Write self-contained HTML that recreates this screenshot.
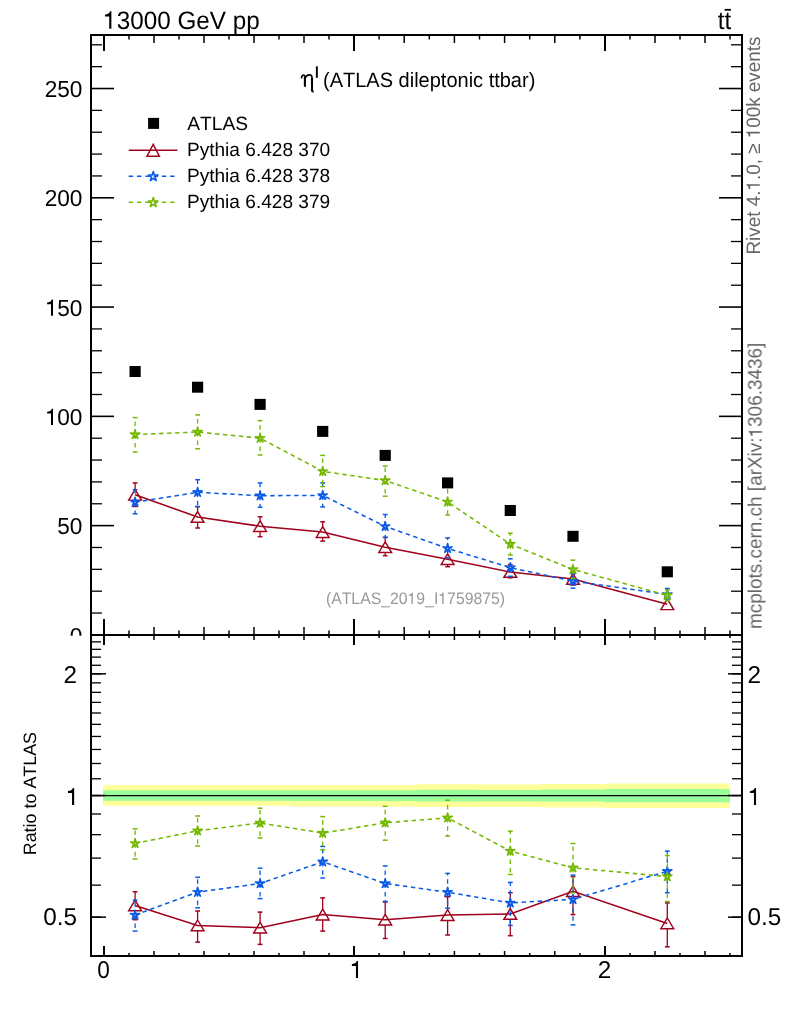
<!DOCTYPE html><html><head><meta charset="utf-8"><style>html,body{margin:0;padding:0;background:#fff;}svg{display:block;}text{font-family:"Liberation Sans",sans-serif;text-rendering:geometricPrecision;font-kerning:none;}</style></head><body>
<svg width="786" height="1024" viewBox="0 0 786 1024">
<rect width="786" height="1024" fill="#fff"/>
<g style="opacity:0.999">
<text transform="translate(103.3,28.9) scale(1,1.04)" font-size="24.25"> 3000 GeV pp</text>
<path d="M111.38 28.75 L111.38 11.35 L110.09 11.35 C109.17 13.82 107.62 14.22 105.05 14.48 L105.05 16.4 L109.22 16.4 L109.22 28.75 Z" fill="#000"/>
<text transform="translate(731.3,29.3) scale(1,1.04)" font-size="24.3" text-anchor="end">tt</text>
<rect x="724.6" y="8.9" width="6.3" height="1.8" fill="#000"/>
<text transform="translate(82.4,534.23) scale(0.98,1)" font-size="23.1" text-anchor="end">50</text>
<text transform="translate(82.4,424.95) scale(0.98,1)" font-size="23.1" text-anchor="end"> 00</text>
<path d="M53.01 424.95 L53.01 408.75 L51.81 408.75 C50.95 411.05 49.51 411.42 47.11 411.67 L47.11 413.45 L50.99 413.45 L50.99 424.95 Z" fill="#000"/>
<text transform="translate(82.4,315.67) scale(0.98,1)" font-size="23.1" text-anchor="end"> 50</text>
<path d="M53.01 315.67 L53.01 299.47 L51.81 299.47 C50.95 301.78 49.51 302.15 47.11 302.39 L47.11 304.17 L50.99 304.17 L50.99 315.67 Z" fill="#000"/>
<text transform="translate(82.4,206.4) scale(0.98,1)" font-size="23.1" text-anchor="end">200</text>
<text transform="translate(82.4,97.12) scale(0.98,1)" font-size="23.1" text-anchor="end">250</text>
<text transform="translate(82.4,643.5) scale(0.98,1)" font-size="23.1" text-anchor="end">0</text>
<g fill="none" stroke="#000" stroke-linecap="butt"><path d="M301.4 78.4 C301.6 76.2 302.7 75.0 303.7 75.0 C304.5 75.0 304.9 75.7 304.9 76.8" stroke-width="1.6"/><path d="M304.9 76.5 L304.9 86.8" stroke-width="2.1"/><path d="M304.9 78.4 C305.9 76.0 307.6 74.9 309.4 74.9 C311.2 74.9 312.0 76.0 312.0 77.8" stroke-width="1.6"/><path d="M312.0 77.5 L312.0 90.6 C312.0 91.3 312.4 91.7 313.6 91.8" stroke-width="2.1"/></g>
<rect x="315.9" y="66.3" width="1.9" height="11.5" fill="#000"/>
<text transform="translate(323.0,86.7) scale(1,1.035)" font-size="20.0">(ATLAS dileptonic ttbar)</text>
<rect x="148.1" y="117.9" width="11" height="11" fill="#000"/>
<text x="187.2" y="129.8" font-size="19.2">ATLAS</text>
<line x1="128.7" y1="150.2" x2="177.3" y2="150.2" stroke="#a0001c" stroke-width="1.45"/>
<line x1="128.7" y1="176.2" x2="175" y2="176.2" stroke="#0a5ae6" stroke-width="1.45" stroke-dasharray="4.4 3.9"/>
<line x1="128.7" y1="202.2" x2="175" y2="202.2" stroke="#74b800" stroke-width="1.45" stroke-dasharray="4.4 3.9"/>
<text x="186.9" y="155.8" font-size="19.1">Pythia 6.428 370</text>
<text x="186.9" y="181.8" font-size="19.1">Pythia 6.428 378</text>
<text x="186.9" y="207.8" font-size="19.1">Pythia 6.428 379</text>
<path d="M153.2 144.3 L159.4 156.2 L147 156.2 Z" fill="none" stroke="#a0001c" stroke-width="1.45" stroke-linejoin="miter"/>
<path d="M153.3 171.5 L154.42 174.96 L158.06 174.95 L155.11 177.09 L156.24 180.55 L153.3 178.4 L150.36 180.55 L151.49 177.09 L148.54 174.95 L152.18 174.96 Z" fill="none" stroke="#0a5ae6" stroke-width="1.6" stroke-linejoin="round"/>
<path d="M153.3 197.5 L154.42 200.96 L158.06 200.95 L155.11 203.09 L156.24 206.55 L153.3 204.4 L150.36 206.55 L151.49 203.09 L148.54 200.95 L152.18 200.96 Z" fill="none" stroke="#74b800" stroke-width="1.6" stroke-linejoin="round"/>
<g transform="translate(759.8,254.5) rotate(-90) scale(1,1.03)">
<text x="0" y="0" font-size="18.88" fill="#666">Rivet 4. .0, ≥  00k events</text>
<path d="M70.29 0 L70.29 -13.03 L69.33 -13.03 C68.63 -11.18 67.48 -10.88 65.55 -10.68 L65.55 -9.25 L68.67 -9.25 L68.67 0 Z" fill="#666"/>
<path d="M122.63 0 L122.63 -13.03 L121.67 -13.03 C120.98 -11.18 119.82 -10.88 117.89 -10.68 L117.89 -9.25 L121.02 -9.25 L121.02 0 Z" fill="#666"/>
</g>
<g transform="translate(762,629) rotate(-90) scale(1,1.03)">
<text x="0" y="0" font-size="18.94" fill="#666">mcplots.cern.ch [arXiv: 306.3436]</text>
<path d="M197.87 0 L197.87 -13.07 L196.9 -13.07 C196.21 -11.21 195.05 -10.91 193.11 -10.72 L193.11 -9.28 L196.24 -9.28 L196.24 0 Z" fill="#666"/>
</g>
<g transform="translate(415.5,603.9) scale(1,1.05)">
<text x="-89.6" y="0" font-size="15.8" fill="#999">(ATLAS_20 9_I 759875)</text>
<path d="M-2.66 0 L-2.66 -10.9 L-3.47 -10.9 C-4.05 -9.35 -5.02 -9.1 -6.63 -8.94 L-6.63 -7.74 L-4.02 -7.74 L-4.02 0 Z" fill="#999"/>
<path d="M28.09 0 L28.09 -10.9 L27.28 -10.9 C26.7 -9.35 25.73 -9.1 24.12 -8.94 L24.12 -7.74 L26.73 -7.74 L26.73 0 Z" fill="#999"/>
</g>
<g>
<path d="M135.1 494.8 L197.6 517 L260.1 526.2 L322.7 532.1 L385.2 547.2 L447.6 559.2 L510.3 572 L573 579 L667.3 604.3" fill="none" stroke="#a0001c" stroke-width="1.55"/>
<line x1="135.1" y1="489.4" x2="135.1" y2="482.9" stroke="#a0001c" stroke-width="1.3"/>
<line x1="135.1" y1="500.1" x2="135.1" y2="506.5" stroke="#a0001c" stroke-width="1.3"/>
<line x1="132.7" y1="482.9" x2="137.5" y2="482.9" stroke="#a0001c" stroke-width="1.5"/>
<line x1="132.7" y1="506.5" x2="137.5" y2="506.5" stroke="#a0001c" stroke-width="1.5"/>
<line x1="197.6" y1="511.6" x2="197.6" y2="506.7" stroke="#a0001c" stroke-width="1.3"/>
<line x1="197.6" y1="522.3" x2="197.6" y2="528" stroke="#a0001c" stroke-width="1.3"/>
<line x1="195.2" y1="506.7" x2="200" y2="506.7" stroke="#a0001c" stroke-width="1.5"/>
<line x1="195.2" y1="528" x2="200" y2="528" stroke="#a0001c" stroke-width="1.5"/>
<line x1="260.1" y1="520.8" x2="260.1" y2="516.8" stroke="#a0001c" stroke-width="1.3"/>
<line x1="260.1" y1="531.5" x2="260.1" y2="536.7" stroke="#a0001c" stroke-width="1.3"/>
<line x1="257.7" y1="516.8" x2="262.5" y2="516.8" stroke="#a0001c" stroke-width="1.5"/>
<line x1="257.7" y1="536.7" x2="262.5" y2="536.7" stroke="#a0001c" stroke-width="1.5"/>
<line x1="322.7" y1="526.7" x2="322.7" y2="521.8" stroke="#a0001c" stroke-width="1.3"/>
<line x1="322.7" y1="537.4" x2="322.7" y2="541.1" stroke="#a0001c" stroke-width="1.3"/>
<line x1="320.3" y1="521.8" x2="325.1" y2="521.8" stroke="#a0001c" stroke-width="1.5"/>
<line x1="320.3" y1="541.1" x2="325.1" y2="541.1" stroke="#a0001c" stroke-width="1.5"/>
<line x1="385.2" y1="541.8" x2="385.2" y2="537.4" stroke="#a0001c" stroke-width="1.3"/>
<line x1="385.2" y1="552.5" x2="385.2" y2="555.7" stroke="#a0001c" stroke-width="1.3"/>
<line x1="382.8" y1="537.4" x2="387.6" y2="537.4" stroke="#a0001c" stroke-width="1.5"/>
<line x1="382.8" y1="555.7" x2="387.6" y2="555.7" stroke="#a0001c" stroke-width="1.5"/>
<line x1="447.6" y1="553.8" x2="447.6" y2="550" stroke="#a0001c" stroke-width="1.3"/>
<line x1="447.6" y1="564.5" x2="447.6" y2="566.7" stroke="#a0001c" stroke-width="1.3"/>
<line x1="445.2" y1="550" x2="450" y2="550" stroke="#a0001c" stroke-width="1.5"/>
<line x1="445.2" y1="566.7" x2="450" y2="566.7" stroke="#a0001c" stroke-width="1.5"/>
<line x1="510.3" y1="566.6" x2="510.3" y2="564.6" stroke="#a0001c" stroke-width="1.3"/>
<line x1="510.3" y1="577.3" x2="510.3" y2="577.8" stroke="#a0001c" stroke-width="1.3"/>
<line x1="507.9" y1="564.6" x2="512.7" y2="564.6" stroke="#a0001c" stroke-width="1.5"/>
<line x1="507.9" y1="577.8" x2="512.7" y2="577.8" stroke="#a0001c" stroke-width="1.5"/>
<line x1="573" y1="573.6" x2="573" y2="573" stroke="#a0001c" stroke-width="1.3"/>
<line x1="573" y1="584.3" x2="573" y2="585" stroke="#a0001c" stroke-width="1.3"/>
<line x1="570.6" y1="573" x2="575.4" y2="573" stroke="#a0001c" stroke-width="1.5"/>
<line x1="570.6" y1="585" x2="575.4" y2="585" stroke="#a0001c" stroke-width="1.5"/>
<path d="M135.1 489.4 L141.5 500.1 L128.7 500.1 Z" fill="none" stroke="#a0001c" stroke-width="1.45" stroke-linejoin="miter"/>
<path d="M197.6 511.6 L204 522.3 L191.2 522.3 Z" fill="none" stroke="#a0001c" stroke-width="1.45" stroke-linejoin="miter"/>
<path d="M260.1 520.8 L266.5 531.5 L253.7 531.5 Z" fill="none" stroke="#a0001c" stroke-width="1.45" stroke-linejoin="miter"/>
<path d="M322.7 526.7 L329.1 537.4 L316.3 537.4 Z" fill="none" stroke="#a0001c" stroke-width="1.45" stroke-linejoin="miter"/>
<path d="M385.2 541.8 L391.6 552.5 L378.8 552.5 Z" fill="none" stroke="#a0001c" stroke-width="1.45" stroke-linejoin="miter"/>
<path d="M447.6 553.8 L454 564.5 L441.2 564.5 Z" fill="none" stroke="#a0001c" stroke-width="1.45" stroke-linejoin="miter"/>
<path d="M510.3 566.6 L516.7 577.3 L503.9 577.3 Z" fill="none" stroke="#a0001c" stroke-width="1.45" stroke-linejoin="miter"/>
<path d="M573 573.6 L579.4 584.3 L566.6 584.3 Z" fill="none" stroke="#a0001c" stroke-width="1.45" stroke-linejoin="miter"/>
<path d="M667.3 598.9 L673.7 609.6 L660.9 609.6 Z" fill="none" stroke="#a0001c" stroke-width="1.45" stroke-linejoin="miter"/>
</g>
<g>
<path d="M135.1 502.2 L197.6 492.3 L260.1 495.7 L322.7 495.4 L385.2 526.4 L447.6 548.4 L510.3 567.6 L573 581.1 L667.3 594.4" fill="none" stroke="#0a5ae6" stroke-width="1.55" stroke-dasharray="4.4 3.6"/>
<path d="M135.1 502.2 L135.1 489.7 M135.1 502.2 L135.1 513.8" stroke="#0a5ae6" stroke-width="1.3" fill="none" stroke-dasharray="4.6 3.8"/>
<line x1="132.7" y1="489.7" x2="137.5" y2="489.7" stroke="#0a5ae6" stroke-width="1.5"/>
<line x1="132.7" y1="513.8" x2="137.5" y2="513.8" stroke="#0a5ae6" stroke-width="1.5"/>
<path d="M197.6 492.3 L197.6 479.7 M197.6 492.3 L197.6 506.5" stroke="#0a5ae6" stroke-width="1.3" fill="none" stroke-dasharray="4.6 3.8"/>
<line x1="195.2" y1="479.7" x2="200" y2="479.7" stroke="#0a5ae6" stroke-width="1.5"/>
<line x1="195.2" y1="506.5" x2="200" y2="506.5" stroke="#0a5ae6" stroke-width="1.5"/>
<path d="M260.1 495.7 L260.1 482.9 M260.1 495.7 L260.1 507.2" stroke="#0a5ae6" stroke-width="1.3" fill="none" stroke-dasharray="4.6 3.8"/>
<line x1="257.7" y1="482.9" x2="262.5" y2="482.9" stroke="#0a5ae6" stroke-width="1.5"/>
<line x1="257.7" y1="507.2" x2="262.5" y2="507.2" stroke="#0a5ae6" stroke-width="1.5"/>
<path d="M322.7 495.4 L322.7 482.9 M322.7 495.4 L322.7 506.9" stroke="#0a5ae6" stroke-width="1.3" fill="none" stroke-dasharray="4.6 3.8"/>
<line x1="320.3" y1="482.9" x2="325.1" y2="482.9" stroke="#0a5ae6" stroke-width="1.5"/>
<line x1="320.3" y1="506.9" x2="325.1" y2="506.9" stroke="#0a5ae6" stroke-width="1.5"/>
<path d="M385.2 526.4 L385.2 514.5 M385.2 526.4 L385.2 537.4" stroke="#0a5ae6" stroke-width="1.3" fill="none" stroke-dasharray="4.6 3.8"/>
<line x1="382.8" y1="514.5" x2="387.6" y2="514.5" stroke="#0a5ae6" stroke-width="1.5"/>
<line x1="382.8" y1="537.4" x2="387.6" y2="537.4" stroke="#0a5ae6" stroke-width="1.5"/>
<path d="M447.6 548.4 L447.6 537.9 M447.6 548.4 L447.6 558" stroke="#0a5ae6" stroke-width="1.3" fill="none" stroke-dasharray="4.6 3.8"/>
<line x1="445.2" y1="537.9" x2="450" y2="537.9" stroke="#0a5ae6" stroke-width="1.5"/>
<line x1="445.2" y1="558" x2="450" y2="558" stroke="#0a5ae6" stroke-width="1.5"/>
<path d="M510.3 567.6 L510.3 558.8 M510.3 567.6 L510.3 576.3" stroke="#0a5ae6" stroke-width="1.3" fill="none" stroke-dasharray="4.6 3.8"/>
<line x1="507.9" y1="558.8" x2="512.7" y2="558.8" stroke="#0a5ae6" stroke-width="1.5"/>
<line x1="507.9" y1="576.3" x2="512.7" y2="576.3" stroke="#0a5ae6" stroke-width="1.5"/>
<path d="M573 581.1 L573 574 M573 581.1 L573 588.2" stroke="#0a5ae6" stroke-width="1.3" fill="none" stroke-dasharray="4.6 3.8"/>
<line x1="570.6" y1="574" x2="575.4" y2="574" stroke="#0a5ae6" stroke-width="1.5"/>
<line x1="570.6" y1="588.2" x2="575.4" y2="588.2" stroke="#0a5ae6" stroke-width="1.5"/>
<path d="M667.3 594.4 L667.3 588.5 M667.3 594.4 L667.3 599" stroke="#0a5ae6" stroke-width="1.3" fill="none" stroke-dasharray="4.6 3.8"/>
<line x1="664.9" y1="588.5" x2="669.7" y2="588.5" stroke="#0a5ae6" stroke-width="1.5"/>
<line x1="664.9" y1="599" x2="669.7" y2="599" stroke="#0a5ae6" stroke-width="1.5"/>
<path d="M135.1 497.3 L136.01 500.95 L139.76 500.69 L136.57 502.68 L137.98 506.16 L135.1 503.75 L132.22 506.16 L133.63 502.68 L130.44 500.69 L134.19 500.95 Z" fill="#0a5ae6" stroke="#0a5ae6" stroke-width="1.5" stroke-linejoin="round"/><ellipse cx="135.1" cy="502.2" rx="0.75" ry="0.5" fill="#fff" fill-opacity="0.75"/>
<path d="M197.6 487.4 L198.51 491.05 L202.26 490.79 L199.07 492.78 L200.48 496.26 L197.6 493.85 L194.72 496.26 L196.13 492.78 L192.94 490.79 L196.69 491.05 Z" fill="#0a5ae6" stroke="#0a5ae6" stroke-width="1.5" stroke-linejoin="round"/><ellipse cx="197.6" cy="492.3" rx="0.75" ry="0.5" fill="#fff" fill-opacity="0.75"/>
<path d="M260.1 490.8 L261.01 494.45 L264.76 494.19 L261.57 496.18 L262.98 499.66 L260.1 497.25 L257.22 499.66 L258.63 496.18 L255.44 494.19 L259.19 494.45 Z" fill="#0a5ae6" stroke="#0a5ae6" stroke-width="1.5" stroke-linejoin="round"/><ellipse cx="260.1" cy="495.7" rx="0.75" ry="0.5" fill="#fff" fill-opacity="0.75"/>
<path d="M322.7 490.5 L323.61 494.15 L327.36 493.89 L324.17 495.88 L325.58 499.36 L322.7 496.95 L319.82 499.36 L321.23 495.88 L318.04 493.89 L321.79 494.15 Z" fill="#0a5ae6" stroke="#0a5ae6" stroke-width="1.5" stroke-linejoin="round"/><ellipse cx="322.7" cy="495.4" rx="0.75" ry="0.5" fill="#fff" fill-opacity="0.75"/>
<path d="M385.2 521.5 L386.11 525.15 L389.86 524.89 L386.67 526.88 L388.08 530.36 L385.2 527.95 L382.32 530.36 L383.73 526.88 L380.54 524.89 L384.29 525.15 Z" fill="#0a5ae6" stroke="#0a5ae6" stroke-width="1.5" stroke-linejoin="round"/><ellipse cx="385.2" cy="526.4" rx="0.75" ry="0.5" fill="#fff" fill-opacity="0.75"/>
<path d="M447.6 543.5 L448.51 547.15 L452.26 546.89 L449.07 548.88 L450.48 552.36 L447.6 549.95 L444.72 552.36 L446.13 548.88 L442.94 546.89 L446.69 547.15 Z" fill="#0a5ae6" stroke="#0a5ae6" stroke-width="1.5" stroke-linejoin="round"/><ellipse cx="447.6" cy="548.4" rx="0.75" ry="0.5" fill="#fff" fill-opacity="0.75"/>
<path d="M510.3 562.7 L511.21 566.35 L514.96 566.09 L511.77 568.08 L513.18 571.56 L510.3 569.15 L507.42 571.56 L508.83 568.08 L505.64 566.09 L509.39 566.35 Z" fill="#0a5ae6" stroke="#0a5ae6" stroke-width="1.5" stroke-linejoin="round"/><ellipse cx="510.3" cy="567.6" rx="0.75" ry="0.5" fill="#fff" fill-opacity="0.75"/>
<path d="M573 576.2 L573.91 579.85 L577.66 579.59 L574.47 581.58 L575.88 585.06 L573 582.65 L570.12 585.06 L571.53 581.58 L568.34 579.59 L572.09 579.85 Z" fill="#0a5ae6" stroke="#0a5ae6" stroke-width="1.5" stroke-linejoin="round"/><ellipse cx="573" cy="581.1" rx="0.75" ry="0.5" fill="#fff" fill-opacity="0.75"/>
<path d="M667.3 589.5 L668.21 593.15 L671.96 592.89 L668.77 594.88 L670.18 598.36 L667.3 595.95 L664.42 598.36 L665.83 594.88 L662.64 592.89 L666.39 593.15 Z" fill="#0a5ae6" stroke="#0a5ae6" stroke-width="1.5" stroke-linejoin="round"/><ellipse cx="667.3" cy="594.4" rx="0.75" ry="0.5" fill="#fff" fill-opacity="0.75"/>
</g>
<g>
<path d="M135.1 434.5 L197.6 432 L260.1 438.2 L322.7 471.4 L385.2 480.5 L447.6 501.9 L510.3 544.1 L573 569.5 L667.3 595.3" fill="none" stroke="#74b800" stroke-width="1.55" stroke-dasharray="4.4 3.6"/>
<path d="M135.1 434.5 L135.1 417.6 M135.1 434.5 L135.1 452" stroke="#74b800" stroke-width="1.3" fill="none" stroke-dasharray="4.6 3.8"/>
<line x1="132.7" y1="417.6" x2="137.5" y2="417.6" stroke="#74b800" stroke-width="1.5"/>
<line x1="132.7" y1="452" x2="137.5" y2="452" stroke="#74b800" stroke-width="1.5"/>
<path d="M197.6 432 L197.6 414.9 M197.6 432 L197.6 448.8" stroke="#74b800" stroke-width="1.3" fill="none" stroke-dasharray="4.6 3.8"/>
<line x1="195.2" y1="414.9" x2="200" y2="414.9" stroke="#74b800" stroke-width="1.5"/>
<line x1="195.2" y1="448.8" x2="200" y2="448.8" stroke="#74b800" stroke-width="1.5"/>
<path d="M260.1 438.2 L260.1 420.6 M260.1 438.2 L260.1 455" stroke="#74b800" stroke-width="1.3" fill="none" stroke-dasharray="4.6 3.8"/>
<line x1="257.7" y1="420.6" x2="262.5" y2="420.6" stroke="#74b800" stroke-width="1.5"/>
<line x1="257.7" y1="455" x2="262.5" y2="455" stroke="#74b800" stroke-width="1.5"/>
<path d="M322.7 471.4 L322.7 455.4 M322.7 471.4 L322.7 486.6" stroke="#74b800" stroke-width="1.3" fill="none" stroke-dasharray="4.6 3.8"/>
<line x1="320.3" y1="455.4" x2="325.1" y2="455.4" stroke="#74b800" stroke-width="1.5"/>
<line x1="320.3" y1="486.6" x2="325.1" y2="486.6" stroke="#74b800" stroke-width="1.5"/>
<path d="M385.2 480.5 L385.2 466 M385.2 480.5 L385.2 496.2" stroke="#74b800" stroke-width="1.3" fill="none" stroke-dasharray="4.6 3.8"/>
<line x1="382.8" y1="466" x2="387.6" y2="466" stroke="#74b800" stroke-width="1.5"/>
<line x1="382.8" y1="496.2" x2="387.6" y2="496.2" stroke="#74b800" stroke-width="1.5"/>
<path d="M447.6 501.9 L447.6 487 M447.6 501.9 L447.6 515" stroke="#74b800" stroke-width="1.3" fill="none" stroke-dasharray="4.6 3.8"/>
<line x1="445.2" y1="487" x2="450" y2="487" stroke="#74b800" stroke-width="1.5"/>
<line x1="445.2" y1="515" x2="450" y2="515" stroke="#74b800" stroke-width="1.5"/>
<path d="M510.3 544.1 L510.3 533.3 M510.3 544.1 L510.3 555" stroke="#74b800" stroke-width="1.3" fill="none" stroke-dasharray="4.6 3.8"/>
<line x1="507.9" y1="533.3" x2="512.7" y2="533.3" stroke="#74b800" stroke-width="1.5"/>
<line x1="507.9" y1="555" x2="512.7" y2="555" stroke="#74b800" stroke-width="1.5"/>
<path d="M573 569.5 L573 560.1 M573 569.5 L573 578.5" stroke="#74b800" stroke-width="1.3" fill="none" stroke-dasharray="4.6 3.8"/>
<line x1="570.6" y1="560.1" x2="575.4" y2="560.1" stroke="#74b800" stroke-width="1.5"/>
<line x1="570.6" y1="578.5" x2="575.4" y2="578.5" stroke="#74b800" stroke-width="1.5"/>
<path d="M667.3 595.3 L667.3 590 M667.3 595.3 L667.3 600.5" stroke="#74b800" stroke-width="1.3" fill="none" stroke-dasharray="4.6 3.8"/>
<line x1="664.9" y1="590" x2="669.7" y2="590" stroke="#74b800" stroke-width="1.5"/>
<line x1="664.9" y1="600.5" x2="669.7" y2="600.5" stroke="#74b800" stroke-width="1.5"/>
<path d="M135.1 429.6 L136.01 433.25 L139.76 432.99 L136.57 434.98 L137.98 438.46 L135.1 436.05 L132.22 438.46 L133.63 434.98 L130.44 432.99 L134.19 433.25 Z" fill="#74b800" stroke="#74b800" stroke-width="1.5" stroke-linejoin="round"/><ellipse cx="135.1" cy="434.5" rx="0.75" ry="0.5" fill="#fff" fill-opacity="0.75"/>
<path d="M197.6 427.1 L198.51 430.75 L202.26 430.49 L199.07 432.48 L200.48 435.96 L197.6 433.55 L194.72 435.96 L196.13 432.48 L192.94 430.49 L196.69 430.75 Z" fill="#74b800" stroke="#74b800" stroke-width="1.5" stroke-linejoin="round"/><ellipse cx="197.6" cy="432" rx="0.75" ry="0.5" fill="#fff" fill-opacity="0.75"/>
<path d="M260.1 433.3 L261.01 436.95 L264.76 436.69 L261.57 438.68 L262.98 442.16 L260.1 439.75 L257.22 442.16 L258.63 438.68 L255.44 436.69 L259.19 436.95 Z" fill="#74b800" stroke="#74b800" stroke-width="1.5" stroke-linejoin="round"/><ellipse cx="260.1" cy="438.2" rx="0.75" ry="0.5" fill="#fff" fill-opacity="0.75"/>
<path d="M322.7 466.5 L323.61 470.15 L327.36 469.89 L324.17 471.88 L325.58 475.36 L322.7 472.95 L319.82 475.36 L321.23 471.88 L318.04 469.89 L321.79 470.15 Z" fill="#74b800" stroke="#74b800" stroke-width="1.5" stroke-linejoin="round"/><ellipse cx="322.7" cy="471.4" rx="0.75" ry="0.5" fill="#fff" fill-opacity="0.75"/>
<path d="M385.2 475.6 L386.11 479.25 L389.86 478.99 L386.67 480.98 L388.08 484.46 L385.2 482.05 L382.32 484.46 L383.73 480.98 L380.54 478.99 L384.29 479.25 Z" fill="#74b800" stroke="#74b800" stroke-width="1.5" stroke-linejoin="round"/><ellipse cx="385.2" cy="480.5" rx="0.75" ry="0.5" fill="#fff" fill-opacity="0.75"/>
<path d="M447.6 497 L448.51 500.65 L452.26 500.39 L449.07 502.38 L450.48 505.86 L447.6 503.45 L444.72 505.86 L446.13 502.38 L442.94 500.39 L446.69 500.65 Z" fill="#74b800" stroke="#74b800" stroke-width="1.5" stroke-linejoin="round"/><ellipse cx="447.6" cy="501.9" rx="0.75" ry="0.5" fill="#fff" fill-opacity="0.75"/>
<path d="M510.3 539.2 L511.21 542.85 L514.96 542.59 L511.77 544.58 L513.18 548.06 L510.3 545.65 L507.42 548.06 L508.83 544.58 L505.64 542.59 L509.39 542.85 Z" fill="#74b800" stroke="#74b800" stroke-width="1.5" stroke-linejoin="round"/><ellipse cx="510.3" cy="544.1" rx="0.75" ry="0.5" fill="#fff" fill-opacity="0.75"/>
<path d="M573 564.6 L573.91 568.25 L577.66 567.99 L574.47 569.98 L575.88 573.46 L573 571.05 L570.12 573.46 L571.53 569.98 L568.34 567.99 L572.09 568.25 Z" fill="#74b800" stroke="#74b800" stroke-width="1.5" stroke-linejoin="round"/><ellipse cx="573" cy="569.5" rx="0.75" ry="0.5" fill="#fff" fill-opacity="0.75"/>
<path d="M667.3 590.4 L668.21 594.05 L671.96 593.79 L668.77 595.78 L670.18 599.26 L667.3 596.85 L664.42 599.26 L665.83 595.78 L662.64 593.79 L666.39 594.05 Z" fill="#74b800" stroke="#74b800" stroke-width="1.5" stroke-linejoin="round"/><ellipse cx="667.3" cy="595.3" rx="0.75" ry="0.5" fill="#fff" fill-opacity="0.75"/>
</g>
<rect x="129.5" y="366" width="11.2" height="11" fill="#000"/>
<rect x="192" y="381.7" width="11.2" height="11" fill="#000"/>
<rect x="254.5" y="398.9" width="11.2" height="11" fill="#000"/>
<rect x="317.1" y="425.9" width="11.2" height="11" fill="#000"/>
<rect x="379.6" y="449.9" width="11.2" height="11" fill="#000"/>
<rect x="442" y="477.4" width="11.2" height="11" fill="#000"/>
<rect x="504.7" y="505" width="11.2" height="11" fill="#000"/>
<rect x="567.4" y="530.8" width="11.2" height="11" fill="#000"/>
<rect x="661.7" y="566.3" width="11.2" height="11" fill="#000"/>
<rect x="0" y="635.7" width="786" height="321.0" fill="#fff"/>
<rect x="91.0" y="635.0" width="651.0" height="321.0" fill="#fff"/>
<path d="M103 785 L165.69 785 L165.69 785 L228.38 785 L228.38 785 L291.07 785 L291.07 785 L353.76 785 L353.76 785 L416.45 785 L416.45 784.3 L479.14 784.3 L479.14 784.6 L541.83 784.6 L541.83 783.9 L604.52 783.9 L604.52 783.4 L729.9 783.4 L729.9 808 L604.52 808 L604.52 807.5 L541.83 807.5 L541.83 807 L479.14 807 L479.14 807.1 L416.45 807.1 L416.45 806.4 L353.76 806.4 L353.76 806.4 L291.07 806.4 L291.07 805.8 L228.38 805.8 L228.38 805.8 L165.69 805.8 L165.69 805.8 L103 805.8 Z" fill="#ffff99"/>
<path d="M103 790.2 L165.69 790.2 L165.69 790.2 L228.38 790.2 L228.38 790.2 L291.07 790.2 L291.07 790.2 L353.76 790.2 L353.76 790.2 L416.45 790.2 L416.45 789.8 L479.14 789.8 L479.14 790.1 L541.83 790.1 L541.83 789.5 L604.52 789.5 L604.52 789.1 L729.9 789.1 L729.9 802.3 L604.52 802.3 L604.52 801.5 L541.83 801.5 L541.83 801.2 L479.14 801.2 L479.14 801.4 L416.45 801.4 L416.45 800.9 L353.76 800.9 L353.76 800.9 L291.07 800.9 L291.07 800.8 L228.38 800.8 L228.38 800.8 L165.69 800.8 L165.69 800.8 L103 800.8 Z" fill="#99ff99"/>
<line x1="91.0" y1="795.6" x2="742.0" y2="795.6" stroke="#000" stroke-width="1.3"/>
<g>
<path d="M135.1 905.5 L197.6 925.4 L260.1 927.7 L322.7 914.6 L385.2 919.7 L447.6 915.1 L510.3 914 L573 891.2 L667.3 923.4" fill="none" stroke="#a0001c" stroke-width="1.55"/>
<line x1="135.1" y1="900.1" x2="135.1" y2="891.7" stroke="#a0001c" stroke-width="1.3"/>
<line x1="135.1" y1="910.8" x2="135.1" y2="919.7" stroke="#a0001c" stroke-width="1.3"/>
<line x1="132.7" y1="891.7" x2="137.5" y2="891.7" stroke="#a0001c" stroke-width="1.5"/>
<line x1="132.7" y1="919.7" x2="137.5" y2="919.7" stroke="#a0001c" stroke-width="1.5"/>
<line x1="197.6" y1="920" x2="197.6" y2="911" stroke="#a0001c" stroke-width="1.3"/>
<line x1="197.6" y1="930.7" x2="197.6" y2="942.1" stroke="#a0001c" stroke-width="1.3"/>
<line x1="195.2" y1="911" x2="200" y2="911" stroke="#a0001c" stroke-width="1.5"/>
<line x1="195.2" y1="942.1" x2="200" y2="942.1" stroke="#a0001c" stroke-width="1.5"/>
<line x1="260.1" y1="922.3" x2="260.1" y2="912.1" stroke="#a0001c" stroke-width="1.3"/>
<line x1="260.1" y1="933" x2="260.1" y2="944.4" stroke="#a0001c" stroke-width="1.3"/>
<line x1="257.7" y1="912.1" x2="262.5" y2="912.1" stroke="#a0001c" stroke-width="1.5"/>
<line x1="257.7" y1="944.4" x2="262.5" y2="944.4" stroke="#a0001c" stroke-width="1.5"/>
<line x1="322.7" y1="909.2" x2="322.7" y2="897.9" stroke="#a0001c" stroke-width="1.3"/>
<line x1="322.7" y1="919.9" x2="322.7" y2="931.1" stroke="#a0001c" stroke-width="1.3"/>
<line x1="320.3" y1="897.9" x2="325.1" y2="897.9" stroke="#a0001c" stroke-width="1.5"/>
<line x1="320.3" y1="931.1" x2="325.1" y2="931.1" stroke="#a0001c" stroke-width="1.5"/>
<line x1="385.2" y1="914.3" x2="385.2" y2="902" stroke="#a0001c" stroke-width="1.3"/>
<line x1="385.2" y1="925" x2="385.2" y2="938.5" stroke="#a0001c" stroke-width="1.3"/>
<line x1="382.8" y1="902" x2="387.6" y2="902" stroke="#a0001c" stroke-width="1.5"/>
<line x1="382.8" y1="938.5" x2="387.6" y2="938.5" stroke="#a0001c" stroke-width="1.5"/>
<line x1="447.6" y1="909.7" x2="447.6" y2="896.8" stroke="#a0001c" stroke-width="1.3"/>
<line x1="447.6" y1="920.4" x2="447.6" y2="935" stroke="#a0001c" stroke-width="1.3"/>
<line x1="445.2" y1="896.8" x2="450" y2="896.8" stroke="#a0001c" stroke-width="1.5"/>
<line x1="445.2" y1="935" x2="450" y2="935" stroke="#a0001c" stroke-width="1.5"/>
<line x1="510.3" y1="908.6" x2="510.3" y2="892.7" stroke="#a0001c" stroke-width="1.3"/>
<line x1="510.3" y1="919.3" x2="510.3" y2="935.7" stroke="#a0001c" stroke-width="1.3"/>
<line x1="507.9" y1="892.7" x2="512.7" y2="892.7" stroke="#a0001c" stroke-width="1.5"/>
<line x1="507.9" y1="935.7" x2="512.7" y2="935.7" stroke="#a0001c" stroke-width="1.5"/>
<line x1="573" y1="885.8" x2="573" y2="876.6" stroke="#a0001c" stroke-width="1.3"/>
<line x1="573" y1="896.5" x2="573" y2="914.6" stroke="#a0001c" stroke-width="1.3"/>
<line x1="570.6" y1="876.6" x2="575.4" y2="876.6" stroke="#a0001c" stroke-width="1.5"/>
<line x1="570.6" y1="914.6" x2="575.4" y2="914.6" stroke="#a0001c" stroke-width="1.5"/>
<line x1="667.3" y1="918" x2="667.3" y2="902.9" stroke="#a0001c" stroke-width="1.3"/>
<line x1="667.3" y1="928.7" x2="667.3" y2="946.8" stroke="#a0001c" stroke-width="1.3"/>
<line x1="664.9" y1="902.9" x2="669.7" y2="902.9" stroke="#a0001c" stroke-width="1.5"/>
<line x1="664.9" y1="946.8" x2="669.7" y2="946.8" stroke="#a0001c" stroke-width="1.5"/>
<path d="M135.1 900.1 L141.5 910.8 L128.7 910.8 Z" fill="none" stroke="#a0001c" stroke-width="1.45" stroke-linejoin="miter"/>
<path d="M197.6 920 L204 930.7 L191.2 930.7 Z" fill="none" stroke="#a0001c" stroke-width="1.45" stroke-linejoin="miter"/>
<path d="M260.1 922.3 L266.5 933 L253.7 933 Z" fill="none" stroke="#a0001c" stroke-width="1.45" stroke-linejoin="miter"/>
<path d="M322.7 909.2 L329.1 919.9 L316.3 919.9 Z" fill="none" stroke="#a0001c" stroke-width="1.45" stroke-linejoin="miter"/>
<path d="M385.2 914.3 L391.6 925 L378.8 925 Z" fill="none" stroke="#a0001c" stroke-width="1.45" stroke-linejoin="miter"/>
<path d="M447.6 909.7 L454 920.4 L441.2 920.4 Z" fill="none" stroke="#a0001c" stroke-width="1.45" stroke-linejoin="miter"/>
<path d="M510.3 908.6 L516.7 919.3 L503.9 919.3 Z" fill="none" stroke="#a0001c" stroke-width="1.45" stroke-linejoin="miter"/>
<path d="M573 885.8 L579.4 896.5 L566.6 896.5 Z" fill="none" stroke="#a0001c" stroke-width="1.45" stroke-linejoin="miter"/>
<path d="M667.3 918 L673.7 928.7 L660.9 928.7 Z" fill="none" stroke="#a0001c" stroke-width="1.45" stroke-linejoin="miter"/>
</g>
<g>
<path d="M135.1 915.1 L197.6 892.2 L260.1 883.5 L322.7 861.8 L385.2 883.5 L447.6 892.2 L510.3 902.9 L573 899.4 L667.3 871.3" fill="none" stroke="#0a5ae6" stroke-width="1.55" stroke-dasharray="4.4 3.6"/>
<path d="M135.1 915.1 L135.1 900.2 M135.1 915.1 L135.1 931.1" stroke="#0a5ae6" stroke-width="1.3" fill="none" stroke-dasharray="4.6 3.8"/>
<line x1="132.7" y1="900.2" x2="137.5" y2="900.2" stroke="#0a5ae6" stroke-width="1.5"/>
<line x1="132.7" y1="931.1" x2="137.5" y2="931.1" stroke="#0a5ae6" stroke-width="1.5"/>
<path d="M197.6 892.2 L197.6 877.3 M197.6 892.2 L197.6 907.8" stroke="#0a5ae6" stroke-width="1.3" fill="none" stroke-dasharray="4.6 3.8"/>
<line x1="195.2" y1="877.3" x2="200" y2="877.3" stroke="#0a5ae6" stroke-width="1.5"/>
<line x1="195.2" y1="907.8" x2="200" y2="907.8" stroke="#0a5ae6" stroke-width="1.5"/>
<path d="M260.1 883.5 L260.1 868.2 M260.1 883.5 L260.1 898.6" stroke="#0a5ae6" stroke-width="1.3" fill="none" stroke-dasharray="4.6 3.8"/>
<line x1="257.7" y1="868.2" x2="262.5" y2="868.2" stroke="#0a5ae6" stroke-width="1.5"/>
<line x1="257.7" y1="898.6" x2="262.5" y2="898.6" stroke="#0a5ae6" stroke-width="1.5"/>
<path d="M322.7 861.8 L322.7 846.4 M322.7 861.8 L322.7 878" stroke="#0a5ae6" stroke-width="1.3" fill="none" stroke-dasharray="4.6 3.8"/>
<line x1="320.3" y1="846.4" x2="325.1" y2="846.4" stroke="#0a5ae6" stroke-width="1.5"/>
<line x1="320.3" y1="878" x2="325.1" y2="878" stroke="#0a5ae6" stroke-width="1.5"/>
<path d="M385.2 883.5 L385.2 865.9 M385.2 883.5 L385.2 901.4" stroke="#0a5ae6" stroke-width="1.3" fill="none" stroke-dasharray="4.6 3.8"/>
<line x1="382.8" y1="865.9" x2="387.6" y2="865.9" stroke="#0a5ae6" stroke-width="1.5"/>
<line x1="382.8" y1="901.4" x2="387.6" y2="901.4" stroke="#0a5ae6" stroke-width="1.5"/>
<path d="M447.6 892.2 L447.6 873.4 M447.6 892.2 L447.6 908.2" stroke="#0a5ae6" stroke-width="1.3" fill="none" stroke-dasharray="4.6 3.8"/>
<line x1="445.2" y1="873.4" x2="450" y2="873.4" stroke="#0a5ae6" stroke-width="1.5"/>
<line x1="445.2" y1="908.2" x2="450" y2="908.2" stroke="#0a5ae6" stroke-width="1.5"/>
<path d="M510.3 902.9 L510.3 882.4 M510.3 902.9 L510.3 925.4" stroke="#0a5ae6" stroke-width="1.3" fill="none" stroke-dasharray="4.6 3.8"/>
<line x1="507.9" y1="882.4" x2="512.7" y2="882.4" stroke="#0a5ae6" stroke-width="1.5"/>
<line x1="507.9" y1="925.4" x2="512.7" y2="925.4" stroke="#0a5ae6" stroke-width="1.5"/>
<path d="M573 899.4 L573 875.1 M573 899.4 L573 924.9" stroke="#0a5ae6" stroke-width="1.3" fill="none" stroke-dasharray="4.6 3.8"/>
<line x1="570.6" y1="875.1" x2="575.4" y2="875.1" stroke="#0a5ae6" stroke-width="1.5"/>
<line x1="570.6" y1="924.9" x2="575.4" y2="924.9" stroke="#0a5ae6" stroke-width="1.5"/>
<path d="M667.3 871.3 L667.3 851.1 M667.3 871.3 L667.3 892.7" stroke="#0a5ae6" stroke-width="1.3" fill="none" stroke-dasharray="4.6 3.8"/>
<line x1="664.9" y1="851.1" x2="669.7" y2="851.1" stroke="#0a5ae6" stroke-width="1.5"/>
<line x1="664.9" y1="892.7" x2="669.7" y2="892.7" stroke="#0a5ae6" stroke-width="1.5"/>
<path d="M135.1 910.2 L136.01 913.85 L139.76 913.59 L136.57 915.58 L137.98 919.06 L135.1 916.65 L132.22 919.06 L133.63 915.58 L130.44 913.59 L134.19 913.85 Z" fill="#0a5ae6" stroke="#0a5ae6" stroke-width="1.5" stroke-linejoin="round"/><ellipse cx="135.1" cy="915.1" rx="0.75" ry="0.5" fill="#fff" fill-opacity="0.75"/>
<path d="M197.6 887.3 L198.51 890.95 L202.26 890.69 L199.07 892.68 L200.48 896.16 L197.6 893.75 L194.72 896.16 L196.13 892.68 L192.94 890.69 L196.69 890.95 Z" fill="#0a5ae6" stroke="#0a5ae6" stroke-width="1.5" stroke-linejoin="round"/><ellipse cx="197.6" cy="892.2" rx="0.75" ry="0.5" fill="#fff" fill-opacity="0.75"/>
<path d="M260.1 878.6 L261.01 882.25 L264.76 881.99 L261.57 883.98 L262.98 887.46 L260.1 885.05 L257.22 887.46 L258.63 883.98 L255.44 881.99 L259.19 882.25 Z" fill="#0a5ae6" stroke="#0a5ae6" stroke-width="1.5" stroke-linejoin="round"/><ellipse cx="260.1" cy="883.5" rx="0.75" ry="0.5" fill="#fff" fill-opacity="0.75"/>
<path d="M322.7 856.9 L323.61 860.55 L327.36 860.29 L324.17 862.28 L325.58 865.76 L322.7 863.35 L319.82 865.76 L321.23 862.28 L318.04 860.29 L321.79 860.55 Z" fill="#0a5ae6" stroke="#0a5ae6" stroke-width="1.5" stroke-linejoin="round"/><ellipse cx="322.7" cy="861.8" rx="0.75" ry="0.5" fill="#fff" fill-opacity="0.75"/>
<path d="M385.2 878.6 L386.11 882.25 L389.86 881.99 L386.67 883.98 L388.08 887.46 L385.2 885.05 L382.32 887.46 L383.73 883.98 L380.54 881.99 L384.29 882.25 Z" fill="#0a5ae6" stroke="#0a5ae6" stroke-width="1.5" stroke-linejoin="round"/><ellipse cx="385.2" cy="883.5" rx="0.75" ry="0.5" fill="#fff" fill-opacity="0.75"/>
<path d="M447.6 887.3 L448.51 890.95 L452.26 890.69 L449.07 892.68 L450.48 896.16 L447.6 893.75 L444.72 896.16 L446.13 892.68 L442.94 890.69 L446.69 890.95 Z" fill="#0a5ae6" stroke="#0a5ae6" stroke-width="1.5" stroke-linejoin="round"/><ellipse cx="447.6" cy="892.2" rx="0.75" ry="0.5" fill="#fff" fill-opacity="0.75"/>
<path d="M510.3 898 L511.21 901.65 L514.96 901.39 L511.77 903.38 L513.18 906.86 L510.3 904.45 L507.42 906.86 L508.83 903.38 L505.64 901.39 L509.39 901.65 Z" fill="#0a5ae6" stroke="#0a5ae6" stroke-width="1.5" stroke-linejoin="round"/><ellipse cx="510.3" cy="902.9" rx="0.75" ry="0.5" fill="#fff" fill-opacity="0.75"/>
<path d="M573 894.5 L573.91 898.15 L577.66 897.89 L574.47 899.88 L575.88 903.36 L573 900.95 L570.12 903.36 L571.53 899.88 L568.34 897.89 L572.09 898.15 Z" fill="#0a5ae6" stroke="#0a5ae6" stroke-width="1.5" stroke-linejoin="round"/><ellipse cx="573" cy="899.4" rx="0.75" ry="0.5" fill="#fff" fill-opacity="0.75"/>
<path d="M667.3 866.4 L668.21 870.05 L671.96 869.79 L668.77 871.78 L670.18 875.26 L667.3 872.85 L664.42 875.26 L665.83 871.78 L662.64 869.79 L666.39 870.05 Z" fill="#0a5ae6" stroke="#0a5ae6" stroke-width="1.5" stroke-linejoin="round"/><ellipse cx="667.3" cy="871.3" rx="0.75" ry="0.5" fill="#fff" fill-opacity="0.75"/>
</g>
<g>
<path d="M135.1 843.4 L197.6 830.8 L260.1 823 L322.7 833.1 L385.2 822.8 L447.6 817.8 L510.3 851.1 L573 867.8 L667.3 876.6" fill="none" stroke="#74b800" stroke-width="1.55" stroke-dasharray="4.4 3.6"/>
<path d="M135.1 843.4 L135.1 828.8 M135.1 843.4 L135.1 859" stroke="#74b800" stroke-width="1.3" fill="none" stroke-dasharray="4.6 3.8"/>
<line x1="132.7" y1="828.8" x2="137.5" y2="828.8" stroke="#74b800" stroke-width="1.5"/>
<line x1="132.7" y1="859" x2="137.5" y2="859" stroke="#74b800" stroke-width="1.5"/>
<path d="M197.6 830.8 L197.6 816 M197.6 830.8 L197.6 846" stroke="#74b800" stroke-width="1.3" fill="none" stroke-dasharray="4.6 3.8"/>
<line x1="195.2" y1="816" x2="200" y2="816" stroke="#74b800" stroke-width="1.5"/>
<line x1="195.2" y1="846" x2="200" y2="846" stroke="#74b800" stroke-width="1.5"/>
<path d="M260.1 823 L260.1 808.2 M260.1 823 L260.1 837.9" stroke="#74b800" stroke-width="1.3" fill="none" stroke-dasharray="4.6 3.8"/>
<line x1="257.7" y1="808.2" x2="262.5" y2="808.2" stroke="#74b800" stroke-width="1.5"/>
<line x1="257.7" y1="837.9" x2="262.5" y2="837.9" stroke="#74b800" stroke-width="1.5"/>
<path d="M322.7 833.1 L322.7 816.6 M322.7 833.1 L322.7 849.8" stroke="#74b800" stroke-width="1.3" fill="none" stroke-dasharray="4.6 3.8"/>
<line x1="320.3" y1="816.6" x2="325.1" y2="816.6" stroke="#74b800" stroke-width="1.5"/>
<line x1="320.3" y1="849.8" x2="325.1" y2="849.8" stroke="#74b800" stroke-width="1.5"/>
<path d="M385.2 822.8 L385.2 806.3 M385.2 822.8 L385.2 840.2" stroke="#74b800" stroke-width="1.3" fill="none" stroke-dasharray="4.6 3.8"/>
<line x1="382.8" y1="806.3" x2="387.6" y2="806.3" stroke="#74b800" stroke-width="1.5"/>
<line x1="382.8" y1="840.2" x2="387.6" y2="840.2" stroke="#74b800" stroke-width="1.5"/>
<path d="M447.6 817.8 L447.6 800.2 M447.6 817.8 L447.6 836.1" stroke="#74b800" stroke-width="1.3" fill="none" stroke-dasharray="4.6 3.8"/>
<line x1="445.2" y1="800.2" x2="450" y2="800.2" stroke="#74b800" stroke-width="1.5"/>
<line x1="445.2" y1="836.1" x2="450" y2="836.1" stroke="#74b800" stroke-width="1.5"/>
<path d="M510.3 851.1 L510.3 831.2 M510.3 851.1 L510.3 874.5" stroke="#74b800" stroke-width="1.3" fill="none" stroke-dasharray="4.6 3.8"/>
<line x1="507.9" y1="831.2" x2="512.7" y2="831.2" stroke="#74b800" stroke-width="1.5"/>
<line x1="507.9" y1="874.5" x2="512.7" y2="874.5" stroke="#74b800" stroke-width="1.5"/>
<path d="M573 867.8 L573 843.5 M573 867.8 L573 892.7" stroke="#74b800" stroke-width="1.3" fill="none" stroke-dasharray="4.6 3.8"/>
<line x1="570.6" y1="843.5" x2="575.4" y2="843.5" stroke="#74b800" stroke-width="1.5"/>
<line x1="570.6" y1="892.7" x2="575.4" y2="892.7" stroke="#74b800" stroke-width="1.5"/>
<path d="M667.3 876.6 L667.3 855.5 M667.3 876.6 L667.3 901.5" stroke="#74b800" stroke-width="1.3" fill="none" stroke-dasharray="4.6 3.8"/>
<line x1="664.9" y1="855.5" x2="669.7" y2="855.5" stroke="#74b800" stroke-width="1.5"/>
<line x1="664.9" y1="901.5" x2="669.7" y2="901.5" stroke="#74b800" stroke-width="1.5"/>
<path d="M135.1 838.5 L136.01 842.15 L139.76 841.89 L136.57 843.88 L137.98 847.36 L135.1 844.95 L132.22 847.36 L133.63 843.88 L130.44 841.89 L134.19 842.15 Z" fill="#74b800" stroke="#74b800" stroke-width="1.5" stroke-linejoin="round"/><ellipse cx="135.1" cy="843.4" rx="0.75" ry="0.5" fill="#fff" fill-opacity="0.75"/>
<path d="M197.6 825.9 L198.51 829.55 L202.26 829.29 L199.07 831.28 L200.48 834.76 L197.6 832.35 L194.72 834.76 L196.13 831.28 L192.94 829.29 L196.69 829.55 Z" fill="#74b800" stroke="#74b800" stroke-width="1.5" stroke-linejoin="round"/><ellipse cx="197.6" cy="830.8" rx="0.75" ry="0.5" fill="#fff" fill-opacity="0.75"/>
<path d="M260.1 818.1 L261.01 821.75 L264.76 821.49 L261.57 823.48 L262.98 826.96 L260.1 824.55 L257.22 826.96 L258.63 823.48 L255.44 821.49 L259.19 821.75 Z" fill="#74b800" stroke="#74b800" stroke-width="1.5" stroke-linejoin="round"/><ellipse cx="260.1" cy="823" rx="0.75" ry="0.5" fill="#fff" fill-opacity="0.75"/>
<path d="M322.7 828.2 L323.61 831.85 L327.36 831.59 L324.17 833.58 L325.58 837.06 L322.7 834.65 L319.82 837.06 L321.23 833.58 L318.04 831.59 L321.79 831.85 Z" fill="#74b800" stroke="#74b800" stroke-width="1.5" stroke-linejoin="round"/><ellipse cx="322.7" cy="833.1" rx="0.75" ry="0.5" fill="#fff" fill-opacity="0.75"/>
<path d="M385.2 817.9 L386.11 821.55 L389.86 821.29 L386.67 823.28 L388.08 826.76 L385.2 824.35 L382.32 826.76 L383.73 823.28 L380.54 821.29 L384.29 821.55 Z" fill="#74b800" stroke="#74b800" stroke-width="1.5" stroke-linejoin="round"/><ellipse cx="385.2" cy="822.8" rx="0.75" ry="0.5" fill="#fff" fill-opacity="0.75"/>
<path d="M447.6 812.9 L448.51 816.55 L452.26 816.29 L449.07 818.28 L450.48 821.76 L447.6 819.35 L444.72 821.76 L446.13 818.28 L442.94 816.29 L446.69 816.55 Z" fill="#74b800" stroke="#74b800" stroke-width="1.5" stroke-linejoin="round"/><ellipse cx="447.6" cy="817.8" rx="0.75" ry="0.5" fill="#fff" fill-opacity="0.75"/>
<path d="M510.3 846.2 L511.21 849.85 L514.96 849.59 L511.77 851.58 L513.18 855.06 L510.3 852.65 L507.42 855.06 L508.83 851.58 L505.64 849.59 L509.39 849.85 Z" fill="#74b800" stroke="#74b800" stroke-width="1.5" stroke-linejoin="round"/><ellipse cx="510.3" cy="851.1" rx="0.75" ry="0.5" fill="#fff" fill-opacity="0.75"/>
<path d="M573 862.9 L573.91 866.55 L577.66 866.29 L574.47 868.28 L575.88 871.76 L573 869.35 L570.12 871.76 L571.53 868.28 L568.34 866.29 L572.09 866.55 Z" fill="#74b800" stroke="#74b800" stroke-width="1.5" stroke-linejoin="round"/><ellipse cx="573" cy="867.8" rx="0.75" ry="0.5" fill="#fff" fill-opacity="0.75"/>
<path d="M667.3 871.7 L668.21 875.35 L671.96 875.09 L668.77 877.08 L670.18 880.56 L667.3 878.15 L664.42 880.56 L665.83 877.08 L662.64 875.09 L666.39 875.35 Z" fill="#74b800" stroke="#74b800" stroke-width="1.5" stroke-linejoin="round"/><ellipse cx="667.3" cy="876.6" rx="0.75" ry="0.5" fill="#fff" fill-opacity="0.75"/>
</g>
<text x="35.9" y="793.6" font-size="17.9" text-anchor="middle" transform="rotate(-90 35.9 793.6)">Ratio to ATLAS</text>
<text x="77.0" y="682.8" font-size="24.3" text-anchor="end">2</text>
<text x="747.6" y="682.8" font-size="24.3">2</text>
<path d="M74.16 805 L74.16 788 L72.9 788 C71.99 790.41 70.48 790.8 67.97 791.06 L67.97 792.93 L72.04 792.93 L72.04 805 Z" fill="#000"/>
<path d="M756.05 805 L756.05 788.1 L754.8 788.1 C753.9 790.5 752.4 790.89 749.9 791.14 L749.9 793 L753.95 793 L753.95 805 Z" fill="#000"/>
<text x="77.0" y="925.4" font-size="24.3" text-anchor="end">0.5</text>
<text x="747.6" y="925.4" font-size="24.3">0.5</text>
<text transform="translate(103.5,978.1) scale(0.93,1)" font-size="24.3" text-anchor="middle">0</text>
<text x="604.4" y="978.1" font-size="24.3" text-anchor="middle">2</text>
<path d="M358.05 977.9 L358.05 961 L356.8 961 C355.9 963.4 354.4 963.79 351.9 964.04 L351.9 965.9 L355.95 965.9 L355.95 977.9 Z" fill="#000"/>
<line x1="92" y1="613.04" x2="102" y2="613.04" stroke="#000" stroke-width="1.3"/>
<line x1="731" y1="613.04" x2="741" y2="613.04" stroke="#000" stroke-width="1.3"/>
<line x1="92" y1="591.19" x2="102" y2="591.19" stroke="#000" stroke-width="1.3"/>
<line x1="731" y1="591.19" x2="741" y2="591.19" stroke="#000" stroke-width="1.3"/>
<line x1="92" y1="569.33" x2="102" y2="569.33" stroke="#000" stroke-width="1.3"/>
<line x1="731" y1="569.33" x2="741" y2="569.33" stroke="#000" stroke-width="1.3"/>
<line x1="92" y1="547.48" x2="102" y2="547.48" stroke="#000" stroke-width="1.3"/>
<line x1="731" y1="547.48" x2="741" y2="547.48" stroke="#000" stroke-width="1.3"/>
<line x1="92" y1="525.62" x2="114" y2="525.62" stroke="#000" stroke-width="1.6"/>
<line x1="719" y1="525.62" x2="741" y2="525.62" stroke="#000" stroke-width="1.6"/>
<line x1="92" y1="503.77" x2="102" y2="503.77" stroke="#000" stroke-width="1.3"/>
<line x1="731" y1="503.77" x2="741" y2="503.77" stroke="#000" stroke-width="1.3"/>
<line x1="92" y1="481.91" x2="102" y2="481.91" stroke="#000" stroke-width="1.3"/>
<line x1="731" y1="481.91" x2="741" y2="481.91" stroke="#000" stroke-width="1.3"/>
<line x1="92" y1="460.06" x2="102" y2="460.06" stroke="#000" stroke-width="1.3"/>
<line x1="731" y1="460.06" x2="741" y2="460.06" stroke="#000" stroke-width="1.3"/>
<line x1="92" y1="438.2" x2="102" y2="438.2" stroke="#000" stroke-width="1.3"/>
<line x1="731" y1="438.2" x2="741" y2="438.2" stroke="#000" stroke-width="1.3"/>
<line x1="92" y1="416.35" x2="114" y2="416.35" stroke="#000" stroke-width="1.6"/>
<line x1="719" y1="416.35" x2="741" y2="416.35" stroke="#000" stroke-width="1.6"/>
<line x1="92" y1="394.49" x2="102" y2="394.49" stroke="#000" stroke-width="1.3"/>
<line x1="731" y1="394.49" x2="741" y2="394.49" stroke="#000" stroke-width="1.3"/>
<line x1="92" y1="372.64" x2="102" y2="372.64" stroke="#000" stroke-width="1.3"/>
<line x1="731" y1="372.64" x2="741" y2="372.64" stroke="#000" stroke-width="1.3"/>
<line x1="92" y1="350.78" x2="102" y2="350.78" stroke="#000" stroke-width="1.3"/>
<line x1="731" y1="350.78" x2="741" y2="350.78" stroke="#000" stroke-width="1.3"/>
<line x1="92" y1="328.93" x2="102" y2="328.93" stroke="#000" stroke-width="1.3"/>
<line x1="731" y1="328.93" x2="741" y2="328.93" stroke="#000" stroke-width="1.3"/>
<line x1="92" y1="307.07" x2="114" y2="307.07" stroke="#000" stroke-width="1.6"/>
<line x1="719" y1="307.07" x2="741" y2="307.07" stroke="#000" stroke-width="1.6"/>
<line x1="92" y1="285.22" x2="102" y2="285.22" stroke="#000" stroke-width="1.3"/>
<line x1="731" y1="285.22" x2="741" y2="285.22" stroke="#000" stroke-width="1.3"/>
<line x1="92" y1="263.36" x2="102" y2="263.36" stroke="#000" stroke-width="1.3"/>
<line x1="731" y1="263.36" x2="741" y2="263.36" stroke="#000" stroke-width="1.3"/>
<line x1="92" y1="241.51" x2="102" y2="241.51" stroke="#000" stroke-width="1.3"/>
<line x1="731" y1="241.51" x2="741" y2="241.51" stroke="#000" stroke-width="1.3"/>
<line x1="92" y1="219.65" x2="102" y2="219.65" stroke="#000" stroke-width="1.3"/>
<line x1="731" y1="219.65" x2="741" y2="219.65" stroke="#000" stroke-width="1.3"/>
<line x1="92" y1="197.8" x2="114" y2="197.8" stroke="#000" stroke-width="1.6"/>
<line x1="719" y1="197.8" x2="741" y2="197.8" stroke="#000" stroke-width="1.6"/>
<line x1="92" y1="175.94" x2="102" y2="175.94" stroke="#000" stroke-width="1.3"/>
<line x1="731" y1="175.94" x2="741" y2="175.94" stroke="#000" stroke-width="1.3"/>
<line x1="92" y1="154.09" x2="102" y2="154.09" stroke="#000" stroke-width="1.3"/>
<line x1="731" y1="154.09" x2="741" y2="154.09" stroke="#000" stroke-width="1.3"/>
<line x1="92" y1="132.23" x2="102" y2="132.23" stroke="#000" stroke-width="1.3"/>
<line x1="731" y1="132.23" x2="741" y2="132.23" stroke="#000" stroke-width="1.3"/>
<line x1="92" y1="110.38" x2="102" y2="110.38" stroke="#000" stroke-width="1.3"/>
<line x1="731" y1="110.38" x2="741" y2="110.38" stroke="#000" stroke-width="1.3"/>
<line x1="92" y1="88.52" x2="114" y2="88.52" stroke="#000" stroke-width="1.6"/>
<line x1="719" y1="88.52" x2="741" y2="88.52" stroke="#000" stroke-width="1.6"/>
<line x1="92" y1="66.67" x2="102" y2="66.67" stroke="#000" stroke-width="1.3"/>
<line x1="731" y1="66.67" x2="741" y2="66.67" stroke="#000" stroke-width="1.3"/>
<line x1="92" y1="44.81" x2="102" y2="44.81" stroke="#000" stroke-width="1.3"/>
<line x1="731" y1="44.81" x2="741" y2="44.81" stroke="#000" stroke-width="1.3"/>
<line x1="92" y1="917.15" x2="101" y2="917.15" stroke="#000" stroke-width="1.3"/>
<line x1="732" y1="917.15" x2="741" y2="917.15" stroke="#000" stroke-width="1.3"/>
<line x1="92" y1="917.15" x2="106" y2="917.15" stroke="#000" stroke-width="1.5"/>
<line x1="728" y1="917.15" x2="741" y2="917.15" stroke="#000" stroke-width="1.5"/>
<line x1="92" y1="885.15" x2="101" y2="885.15" stroke="#000" stroke-width="1.3"/>
<line x1="732" y1="885.15" x2="741" y2="885.15" stroke="#000" stroke-width="1.3"/>
<line x1="92" y1="858.1" x2="101" y2="858.1" stroke="#000" stroke-width="1.3"/>
<line x1="732" y1="858.1" x2="741" y2="858.1" stroke="#000" stroke-width="1.3"/>
<line x1="92" y1="834.66" x2="101" y2="834.66" stroke="#000" stroke-width="1.3"/>
<line x1="732" y1="834.66" x2="741" y2="834.66" stroke="#000" stroke-width="1.3"/>
<line x1="92" y1="813.99" x2="101" y2="813.99" stroke="#000" stroke-width="1.3"/>
<line x1="732" y1="813.99" x2="741" y2="813.99" stroke="#000" stroke-width="1.3"/>
<line x1="92" y1="795.5" x2="101" y2="795.5" stroke="#000" stroke-width="1.3"/>
<line x1="732" y1="795.5" x2="741" y2="795.5" stroke="#000" stroke-width="1.3"/>
<line x1="92" y1="795.5" x2="106" y2="795.5" stroke="#000" stroke-width="1.5"/>
<line x1="728" y1="795.5" x2="741" y2="795.5" stroke="#000" stroke-width="1.5"/>
<line x1="92" y1="778.77" x2="101" y2="778.77" stroke="#000" stroke-width="1.3"/>
<line x1="732" y1="778.77" x2="741" y2="778.77" stroke="#000" stroke-width="1.3"/>
<line x1="92" y1="763.5" x2="101" y2="763.5" stroke="#000" stroke-width="1.3"/>
<line x1="732" y1="763.5" x2="741" y2="763.5" stroke="#000" stroke-width="1.3"/>
<line x1="92" y1="749.46" x2="101" y2="749.46" stroke="#000" stroke-width="1.3"/>
<line x1="732" y1="749.46" x2="741" y2="749.46" stroke="#000" stroke-width="1.3"/>
<line x1="92" y1="736.45" x2="101" y2="736.45" stroke="#000" stroke-width="1.3"/>
<line x1="732" y1="736.45" x2="741" y2="736.45" stroke="#000" stroke-width="1.3"/>
<line x1="92" y1="724.34" x2="101" y2="724.34" stroke="#000" stroke-width="1.3"/>
<line x1="732" y1="724.34" x2="741" y2="724.34" stroke="#000" stroke-width="1.3"/>
<line x1="92" y1="713.01" x2="101" y2="713.01" stroke="#000" stroke-width="1.3"/>
<line x1="732" y1="713.01" x2="741" y2="713.01" stroke="#000" stroke-width="1.3"/>
<line x1="92" y1="702.37" x2="101" y2="702.37" stroke="#000" stroke-width="1.3"/>
<line x1="732" y1="702.37" x2="741" y2="702.37" stroke="#000" stroke-width="1.3"/>
<line x1="92" y1="692.34" x2="101" y2="692.34" stroke="#000" stroke-width="1.3"/>
<line x1="732" y1="692.34" x2="741" y2="692.34" stroke="#000" stroke-width="1.3"/>
<line x1="92" y1="682.85" x2="101" y2="682.85" stroke="#000" stroke-width="1.3"/>
<line x1="732" y1="682.85" x2="741" y2="682.85" stroke="#000" stroke-width="1.3"/>
<line x1="92" y1="673.85" x2="101" y2="673.85" stroke="#000" stroke-width="1.3"/>
<line x1="732" y1="673.85" x2="741" y2="673.85" stroke="#000" stroke-width="1.3"/>
<line x1="92" y1="673.85" x2="106" y2="673.85" stroke="#000" stroke-width="1.5"/>
<line x1="728" y1="673.85" x2="741" y2="673.85" stroke="#000" stroke-width="1.5"/>
<line x1="92" y1="665.29" x2="101" y2="665.29" stroke="#000" stroke-width="1.3"/>
<line x1="732" y1="665.29" x2="741" y2="665.29" stroke="#000" stroke-width="1.3"/>
<line x1="92" y1="657.13" x2="101" y2="657.13" stroke="#000" stroke-width="1.3"/>
<line x1="732" y1="657.13" x2="741" y2="657.13" stroke="#000" stroke-width="1.3"/>
<line x1="92" y1="649.32" x2="101" y2="649.32" stroke="#000" stroke-width="1.3"/>
<line x1="732" y1="649.32" x2="741" y2="649.32" stroke="#000" stroke-width="1.3"/>
<line x1="92" y1="641.86" x2="101" y2="641.86" stroke="#000" stroke-width="1.3"/>
<line x1="732" y1="641.86" x2="741" y2="641.86" stroke="#000" stroke-width="1.3"/>
<line x1="104" y1="36" x2="104" y2="51" stroke="#000" stroke-width="2.0"/>
<line x1="104" y1="634" x2="104" y2="619" stroke="#000" stroke-width="2.0"/>
<line x1="104" y1="636" x2="104" y2="645" stroke="#000" stroke-width="2.0"/>
<line x1="104" y1="955" x2="104" y2="946" stroke="#000" stroke-width="2.0"/>
<line x1="129" y1="36" x2="129" y2="39.5" stroke="#000" stroke-width="1.5"/>
<line x1="129" y1="634" x2="129" y2="630.5" stroke="#000" stroke-width="1.5"/>
<line x1="129" y1="636" x2="129" y2="638" stroke="#000" stroke-width="1.5"/>
<line x1="129" y1="955" x2="129" y2="953" stroke="#000" stroke-width="1.5"/>
<line x1="154" y1="36" x2="154" y2="43" stroke="#000" stroke-width="1.5"/>
<line x1="154" y1="634" x2="154" y2="627" stroke="#000" stroke-width="1.5"/>
<line x1="154" y1="636" x2="154" y2="640" stroke="#000" stroke-width="1.5"/>
<line x1="154" y1="955" x2="154" y2="951" stroke="#000" stroke-width="1.5"/>
<line x1="179" y1="36" x2="179" y2="39.5" stroke="#000" stroke-width="1.5"/>
<line x1="179" y1="634" x2="179" y2="630.5" stroke="#000" stroke-width="1.5"/>
<line x1="179" y1="636" x2="179" y2="638" stroke="#000" stroke-width="1.5"/>
<line x1="179" y1="955" x2="179" y2="953" stroke="#000" stroke-width="1.5"/>
<line x1="204" y1="36" x2="204" y2="43" stroke="#000" stroke-width="1.5"/>
<line x1="204" y1="634" x2="204" y2="627" stroke="#000" stroke-width="1.5"/>
<line x1="204" y1="636" x2="204" y2="640" stroke="#000" stroke-width="1.5"/>
<line x1="204" y1="955" x2="204" y2="951" stroke="#000" stroke-width="1.5"/>
<line x1="229" y1="36" x2="229" y2="39.5" stroke="#000" stroke-width="1.5"/>
<line x1="229" y1="634" x2="229" y2="630.5" stroke="#000" stroke-width="1.5"/>
<line x1="229" y1="636" x2="229" y2="638" stroke="#000" stroke-width="1.5"/>
<line x1="229" y1="955" x2="229" y2="953" stroke="#000" stroke-width="1.5"/>
<line x1="254" y1="36" x2="254" y2="43" stroke="#000" stroke-width="1.5"/>
<line x1="254" y1="634" x2="254" y2="627" stroke="#000" stroke-width="1.5"/>
<line x1="254" y1="636" x2="254" y2="640" stroke="#000" stroke-width="1.5"/>
<line x1="254" y1="955" x2="254" y2="951" stroke="#000" stroke-width="1.5"/>
<line x1="279" y1="36" x2="279" y2="39.5" stroke="#000" stroke-width="1.5"/>
<line x1="279" y1="634" x2="279" y2="630.5" stroke="#000" stroke-width="1.5"/>
<line x1="279" y1="636" x2="279" y2="638" stroke="#000" stroke-width="1.5"/>
<line x1="279" y1="955" x2="279" y2="953" stroke="#000" stroke-width="1.5"/>
<line x1="304" y1="36" x2="304" y2="43" stroke="#000" stroke-width="1.5"/>
<line x1="304" y1="634" x2="304" y2="627" stroke="#000" stroke-width="1.5"/>
<line x1="304" y1="636" x2="304" y2="640" stroke="#000" stroke-width="1.5"/>
<line x1="304" y1="955" x2="304" y2="951" stroke="#000" stroke-width="1.5"/>
<line x1="329" y1="36" x2="329" y2="39.5" stroke="#000" stroke-width="1.5"/>
<line x1="329" y1="634" x2="329" y2="630.5" stroke="#000" stroke-width="1.5"/>
<line x1="329" y1="636" x2="329" y2="638" stroke="#000" stroke-width="1.5"/>
<line x1="329" y1="955" x2="329" y2="953" stroke="#000" stroke-width="1.5"/>
<line x1="354" y1="36" x2="354" y2="51" stroke="#000" stroke-width="2.0"/>
<line x1="354" y1="634" x2="354" y2="619" stroke="#000" stroke-width="2.0"/>
<line x1="354" y1="636" x2="354" y2="645" stroke="#000" stroke-width="2.0"/>
<line x1="354" y1="955" x2="354" y2="946" stroke="#000" stroke-width="2.0"/>
<line x1="379.1" y1="36" x2="379.1" y2="39.5" stroke="#000" stroke-width="1.5"/>
<line x1="379.1" y1="634" x2="379.1" y2="630.5" stroke="#000" stroke-width="1.5"/>
<line x1="379.1" y1="636" x2="379.1" y2="638" stroke="#000" stroke-width="1.5"/>
<line x1="379.1" y1="955" x2="379.1" y2="953" stroke="#000" stroke-width="1.5"/>
<line x1="404.2" y1="36" x2="404.2" y2="43" stroke="#000" stroke-width="1.5"/>
<line x1="404.2" y1="634" x2="404.2" y2="627" stroke="#000" stroke-width="1.5"/>
<line x1="404.2" y1="636" x2="404.2" y2="640" stroke="#000" stroke-width="1.5"/>
<line x1="404.2" y1="955" x2="404.2" y2="951" stroke="#000" stroke-width="1.5"/>
<line x1="429.3" y1="36" x2="429.3" y2="39.5" stroke="#000" stroke-width="1.5"/>
<line x1="429.3" y1="634" x2="429.3" y2="630.5" stroke="#000" stroke-width="1.5"/>
<line x1="429.3" y1="636" x2="429.3" y2="638" stroke="#000" stroke-width="1.5"/>
<line x1="429.3" y1="955" x2="429.3" y2="953" stroke="#000" stroke-width="1.5"/>
<line x1="454.4" y1="36" x2="454.4" y2="43" stroke="#000" stroke-width="1.5"/>
<line x1="454.4" y1="634" x2="454.4" y2="627" stroke="#000" stroke-width="1.5"/>
<line x1="454.4" y1="636" x2="454.4" y2="640" stroke="#000" stroke-width="1.5"/>
<line x1="454.4" y1="955" x2="454.4" y2="951" stroke="#000" stroke-width="1.5"/>
<line x1="479.5" y1="36" x2="479.5" y2="39.5" stroke="#000" stroke-width="1.5"/>
<line x1="479.5" y1="634" x2="479.5" y2="630.5" stroke="#000" stroke-width="1.5"/>
<line x1="479.5" y1="636" x2="479.5" y2="638" stroke="#000" stroke-width="1.5"/>
<line x1="479.5" y1="955" x2="479.5" y2="953" stroke="#000" stroke-width="1.5"/>
<line x1="504.6" y1="36" x2="504.6" y2="43" stroke="#000" stroke-width="1.5"/>
<line x1="504.6" y1="634" x2="504.6" y2="627" stroke="#000" stroke-width="1.5"/>
<line x1="504.6" y1="636" x2="504.6" y2="640" stroke="#000" stroke-width="1.5"/>
<line x1="504.6" y1="955" x2="504.6" y2="951" stroke="#000" stroke-width="1.5"/>
<line x1="529.7" y1="36" x2="529.7" y2="39.5" stroke="#000" stroke-width="1.5"/>
<line x1="529.7" y1="634" x2="529.7" y2="630.5" stroke="#000" stroke-width="1.5"/>
<line x1="529.7" y1="636" x2="529.7" y2="638" stroke="#000" stroke-width="1.5"/>
<line x1="529.7" y1="955" x2="529.7" y2="953" stroke="#000" stroke-width="1.5"/>
<line x1="554.8" y1="36" x2="554.8" y2="43" stroke="#000" stroke-width="1.5"/>
<line x1="554.8" y1="634" x2="554.8" y2="627" stroke="#000" stroke-width="1.5"/>
<line x1="554.8" y1="636" x2="554.8" y2="640" stroke="#000" stroke-width="1.5"/>
<line x1="554.8" y1="955" x2="554.8" y2="951" stroke="#000" stroke-width="1.5"/>
<line x1="579.9" y1="36" x2="579.9" y2="39.5" stroke="#000" stroke-width="1.5"/>
<line x1="579.9" y1="634" x2="579.9" y2="630.5" stroke="#000" stroke-width="1.5"/>
<line x1="579.9" y1="636" x2="579.9" y2="638" stroke="#000" stroke-width="1.5"/>
<line x1="579.9" y1="955" x2="579.9" y2="953" stroke="#000" stroke-width="1.5"/>
<line x1="605" y1="36" x2="605" y2="51" stroke="#000" stroke-width="2.0"/>
<line x1="605" y1="634" x2="605" y2="619" stroke="#000" stroke-width="2.0"/>
<line x1="605" y1="636" x2="605" y2="645" stroke="#000" stroke-width="2.0"/>
<line x1="605" y1="955" x2="605" y2="946" stroke="#000" stroke-width="2.0"/>
<line x1="630" y1="36" x2="630" y2="39.5" stroke="#000" stroke-width="1.5"/>
<line x1="630" y1="634" x2="630" y2="630.5" stroke="#000" stroke-width="1.5"/>
<line x1="630" y1="636" x2="630" y2="638" stroke="#000" stroke-width="1.5"/>
<line x1="630" y1="955" x2="630" y2="953" stroke="#000" stroke-width="1.5"/>
<line x1="655" y1="36" x2="655" y2="43" stroke="#000" stroke-width="1.5"/>
<line x1="655" y1="634" x2="655" y2="627" stroke="#000" stroke-width="1.5"/>
<line x1="655" y1="636" x2="655" y2="640" stroke="#000" stroke-width="1.5"/>
<line x1="655" y1="955" x2="655" y2="951" stroke="#000" stroke-width="1.5"/>
<line x1="680" y1="36" x2="680" y2="39.5" stroke="#000" stroke-width="1.5"/>
<line x1="680" y1="634" x2="680" y2="630.5" stroke="#000" stroke-width="1.5"/>
<line x1="680" y1="636" x2="680" y2="638" stroke="#000" stroke-width="1.5"/>
<line x1="680" y1="955" x2="680" y2="953" stroke="#000" stroke-width="1.5"/>
<line x1="705" y1="36" x2="705" y2="43" stroke="#000" stroke-width="1.5"/>
<line x1="705" y1="634" x2="705" y2="627" stroke="#000" stroke-width="1.5"/>
<line x1="705" y1="636" x2="705" y2="640" stroke="#000" stroke-width="1.5"/>
<line x1="705" y1="955" x2="705" y2="951" stroke="#000" stroke-width="1.5"/>
<line x1="730" y1="36" x2="730" y2="39.5" stroke="#000" stroke-width="1.5"/>
<line x1="730" y1="634" x2="730" y2="630.5" stroke="#000" stroke-width="1.5"/>
<line x1="730" y1="636" x2="730" y2="638" stroke="#000" stroke-width="1.5"/>
<line x1="730" y1="955" x2="730" y2="953" stroke="#000" stroke-width="1.5"/>
<rect x="91.0" y="35.0" width="651.0" height="600.0" fill="none" stroke="#000" stroke-width="2"/>
<rect x="91.0" y="635.0" width="651.0" height="321.0" fill="none" stroke="#000" stroke-width="2"/>
</g></svg></body></html>
